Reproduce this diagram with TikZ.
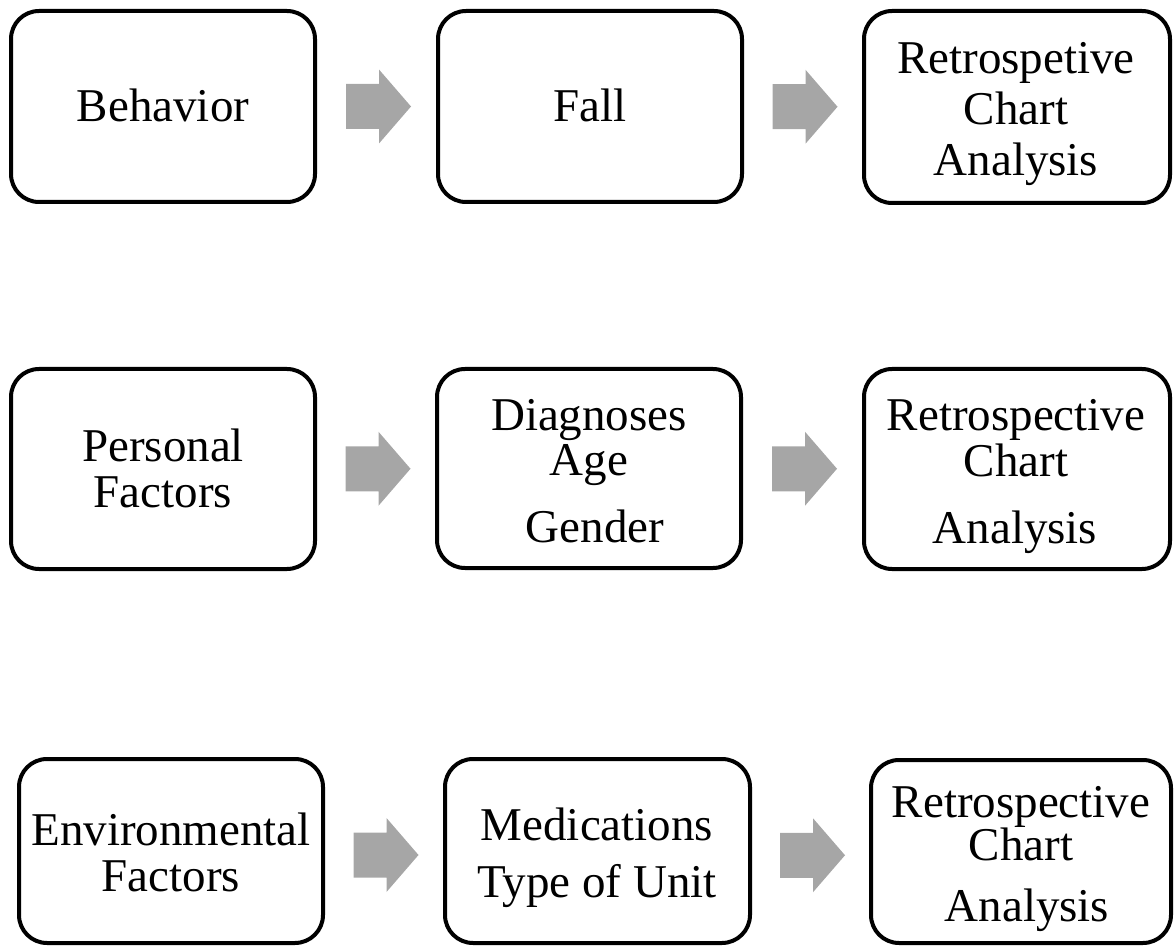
\documentclass[tikz,border=0pt]{standalone}
\usepackage{fontspec}
\setmainfont{Liberation Serif}
\usetikzlibrary{calc}
\definecolor{arrowgray}{HTML}{A6A6A6}
\tikzset{
  box/.style={draw=black, line width=2pt, rounded corners=14pt, fill=white, inner sep=0pt},
  txt/.style={anchor=base, inner sep=0pt, font=\fontsize{23.5}{28}\selectfont},
  blockarrow/.style={fill=arrowgray, draw=none}
}
\newcommand{\mybox}[5]{%
  \node[box, minimum width={(#4-#2)*0.5pt}, minimum height={(#5-#3)*0.5pt}] (#1) at ({(#2+#4)/2},{(#3+#5)/2}) {};}
\newcommand{\myarrow}[1]{%
  \fill[blockarrow, shift={(#1)}] (-32.5,-22.5) -- (0.5,-22.5) -- (0.5,-37) -- (32.5,0) -- (0.5,37) -- (0.5,22.5) -- (-32.5,22.5) -- cycle;}
\begin{document}
\begin{tikzpicture}[x=0.5pt, y=-0.5pt]
\useasboundingbox (0,0) rectangle (1175,947);
% row 1
\mybox{b11}{11}{11}{315}{202}
\mybox{b12}{438}{11}{742}{202}
\mybox{b13}{864}{11}{1170}{203}
% row 2
\mybox{b21}{11}{369}{315}{569}
\mybox{b22}{437}{369}{741}{568}
\mybox{b23}{864}{369}{1170}{569}
% row 3
\mybox{b31}{19}{759}{323}{943}
\mybox{b32}{445}{759}{750}{943}
\mybox{b33}{871}{760}{1171}{943}
% arrows
\coordinate (a11) at ($(b11.east)!0.5!(b12.west)+(2,0)$);
\coordinate (a12) at ($(b12.east)!0.5!(b13.west)+(2,0)$);
\coordinate (a21) at ($(b21.east)!0.5!(b22.west)+(2,0)$);
\coordinate (a22) at ($(b22.east)!0.5!(b23.west)+(2,0)$);
\coordinate (a31) at ($(b31.east)!0.5!(b32.west)+(2,4)$);
\coordinate (a32) at ($(b32.east)!0.5!(b33.west)+(2,4)$);
\myarrow{a11}\myarrow{a12}
\myarrow{a21}\myarrow{a22}
\myarrow{a31}\myarrow{a32}
% texts row 1
\node[txt] (t11) at (163,122) {Behavior};
\node[txt] (t12) at (590,122) {Fall};
\node[txt] (t13a) at (1016,74) {Retrospetive};
\node[txt] (t13b) at (1016,125) {Chart};
\node[txt] (t13c) at (1016,176) {Analysis};
% texts row 2
\node[txt] (t21a) at (163,461) {Personal};
\node[txt] (t21b) at (163,508) {Factors};
\node[txt] (t22a) at (589,430) {Diagnoses};
\node[txt] (t22b) at (589,475) {Age};
\node[txt] (t22c) at (595,542) {Gender};
\node[txt] (t23a) at (1016,430) {Retrospective};
\node[txt] (t23b) at (1016,476) {Chart};
\node[txt] (t23c) at (1015,544) {Analysis};
% texts row 3
\node[txt] (t31a) at (171,845) {Environmental};
\node[txt] (t31b) at (171,891) {Factors};
\node[txt] (t32a) at (597,840) {Medications};
\node[txt] (t32b) at (597,897) {Type of Unit};
\node[txt] (t33a) at (1021,817) {Retrospective};
\node[txt] (t33b) at (1021,860) {Chart};
\node[txt] (t33c) at (1027,921) {Analysis};
\end{tikzpicture}
\end{document}
